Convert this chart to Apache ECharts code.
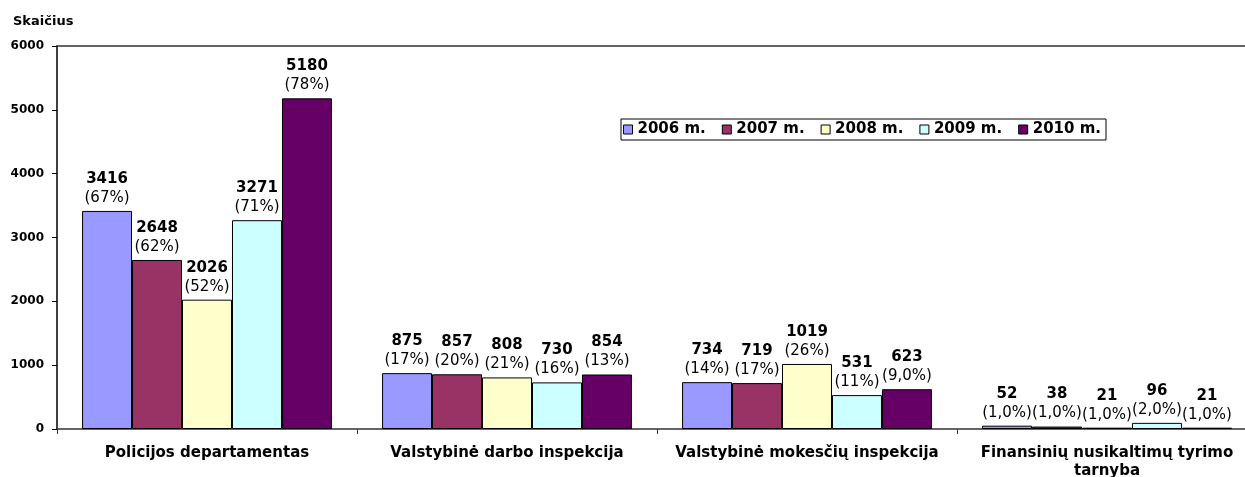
<!DOCTYPE html>
<html>
<head>
<meta charset="utf-8">
<script src="https://cdn.jsdelivr.net/npm/echarts@6/dist/echarts.min.js"></script>
<style>
html, body { margin: 0; padding: 0; background: #fff; overflow: hidden; width: 1245px; height: 477px; }
#chart { width: 1275px; height: 477px; }
</style>
</head>
<body>
<div id="chart"></div>
<script>
var categories = ['Policijos departamentas', 'Valstybinė darbo inspekcija', 'Valstybinė mokesčių inspekcija', 'Finansinių nusikaltimų tyrimo\ntarnyba'];
var years = ['2006 m.', '2007 m.', '2008 m.', '2009 m.', '2010 m.'];
var colors = ['#9999FF', '#993366', '#FFFFCC', '#CCFFFF', '#660066'];
var v2006 = [3416, 875, 734, 52];
var v2007 = [2648, 857, 719, 38];
var v2008 = [2026, 808, 1019, 21];
var v2009 = [3271, 730, 531, 96];
var v2010 = [5180, 854, 623, 21];
var p2006 = ['67%', '17%', '14%', '1,0%'];
var p2007 = ['62%', '20%', '17%', '1,0%'];
var p2008 = ['52%', '21%', '26%', '1,0%'];
var p2009 = ['71%', '16%', '11%', '2,0%'];
var p2010 = ['78%', '13%', '9,0%', '1,0%'];

var values = [v2006, v2007, v2008, v2009, v2010];
var pcts = [p2006, p2007, p2008, p2009, p2010];
var font = 'DejaVu Sans, Verdana, sans-serif';

var chart = echarts.init(document.getElementById('chart'));

function makeSeries(i) {
    return {
        name: years[i],
        type: 'bar',
        data: values[i],
        barGap: '0%',
        barCategoryGap: '16.7%',
        itemStyle: { color: colors[i], borderColor: '#000', borderWidth: 1 },
        label: {
            show: true,
            position: 'top',
            distance: 4,
            formatter: function (p) {
                return '{b|' + p.value + '}\n{p|(' + pcts[i][p.dataIndex] + ')}';
            },
            rich: {
                b: { fontFamily: font, fontWeight: 'bold', fontSize: 15, color: '#000', lineHeight: 20, align: 'center' },
                p: { fontFamily: font, fontSize: 15, color: '#000', lineHeight: 18, align: 'center' }
            }
        }
    };
}

var series = [];
for (var i = 0; i < years.length; i++) series.push(makeSeries(i));

chart.setOption({
    animation: false,
    color: colors,
    grid: { left: 57, width: 1200, top: 46, bottom: 48, outerBoundsMode: 'none' },
    legend: {
        data: years,
        left: 621,
        top: 119,
        itemWidth: 9,
        itemHeight: 9,
        itemGap: 16,
        padding: [3, 5, 3, 2],
        borderColor: '#000',
        borderWidth: 1,
        icon: 'rect',
        itemStyle: { borderColor: '#000', borderWidth: 1 },
        textStyle: { fontFamily: font, fontWeight: 'bold', fontSize: 15, color: '#000' }
    },
    xAxis: [{
        type: 'category',
        data: categories,
        axisLine: { lineStyle: { color: '#333', width: 1.5 } },
        axisTick: { show: true, length: 5, lineStyle: { color: '#333' } },
        axisLabel: { fontFamily: font, fontWeight: 'bold', fontSize: 15, color: '#000', margin: 15, lineHeight: 18, interval: 0 }
    }, {
        type: 'category',
        position: 'top',
        data: categories,
        axisLine: { show: true, lineStyle: { color: '#333', width: 1.5 } },
        axisTick: { show: false },
        axisLabel: { show: false }
    }],
    yAxis: {
        type: 'value',
        min: 0,
        max: 6000,
        interval: 1000,
        name: 'Skaičius',
        nameGap: 18,
        nameTextStyle: { fontFamily: font, fontWeight: 'bold', fontSize: 13, color: '#000', align: 'left', padding: [0, 0, 0, -44] },
        splitLine: { show: false },
        axisLine: { show: true, lineStyle: { color: '#000', width: 1.5 } },
        axisTick: { show: true, length: 5, lineStyle: { color: '#000' } },
        axisLabel: {
            fontFamily: font, fontWeight: 'bold', fontSize: 12, color: '#000', margin: 13,
            formatter: function (v) { return String(v); }
        }
    },
    series: series
});
</script>
</body>
</html>
